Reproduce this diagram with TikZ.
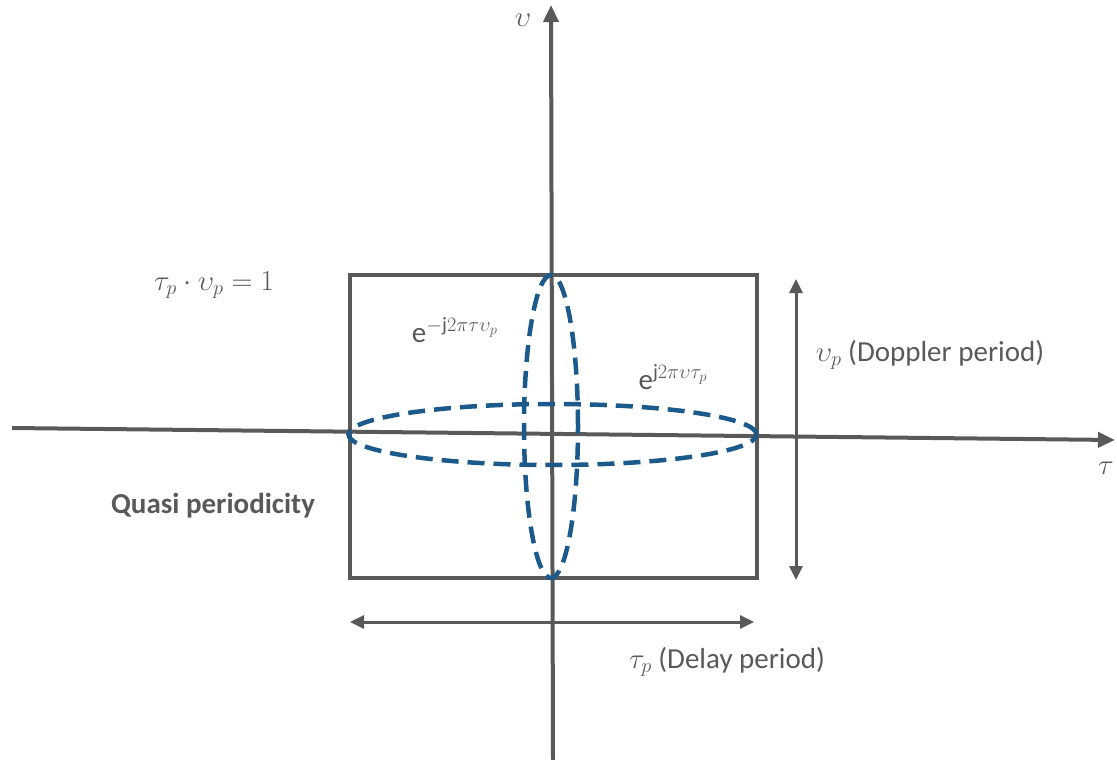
\RequirePackage{fix-cm}
\documentclass[tikz,border=0pt]{standalone}
\usepackage{fontspec}
\setmainfont{Carlito}
\usetikzlibrary{arrows.meta,shapes.geometric}
\definecolor{ax}{HTML}{595959}
\definecolor{bl}{HTML}{1B5A8A}
\begin{document}
\begin{tikzpicture}[x=1pt,y=-1pt,
  axis/.style={draw=ax,line width=4pt,-{Triangle[length=17pt,width=15pt]}},
  frame/.style={draw=ax,line width=4pt},
  dim/.style={draw=ax,line width=3pt,{Triangle[length=14pt,width=13pt]}-{Triangle[length=14pt,width=13pt]}},
  ell/.style={draw=bl,line width=4.5pt,dash pattern=on 17pt off 9pt},
  lab/.style={text=ax,font=\fontsize{29}{34}\selectfont,inner sep=0pt}]
\useasboundingbox (0,0) rectangle (1117,760);
\coordinate (ys) at (553,760);
\coordinate (ye) at (551,5);
\coordinate (xs) at (12,428);
\coordinate (xe) at (1115,440);
\draw[axis] (ys) -- (ye);
\draw[axis] (xs) -- (xe);
\node[frame,minimum width=407pt,minimum height=303pt,inner sep=0pt] (box) at (553.5,426.5) {};
\coordinate (va) at (796,279);
\coordinate (vb) at (796,580);
\draw[dim] (va) -- (vb);
\coordinate (ha) at (350,622);
\coordinate (hb) at (754,622);
\draw[dim] (ha) -- (hb);
\node[ell,ellipse,minimum width=54pt,minimum height=303pt,inner sep=0pt] (e1) at (551,426.5) {};
\node[ell,ellipse,minimum width=408pt,minimum height=61pt,inner sep=0pt] (e2) at (552.5,434.5) {};
\node[lab] (nu) at (523,20) {$\upsilon$};
\node[lab] (tau) at (1106,468) {$\tau$};
\node[lab] (rel) at (214,285) {$\tau_p\cdot\upsilon_p=1$};
\node[lab] (em) at (455,330) {e$^{-\mathrm{j}2\pi\tau\upsilon_p}$};
\node[lab] (ep) at (673,377) {e$^{\mathrm{j}2\pi\upsilon\tau_p}$};
\node[lab] (dp) at (930,355) {$\upsilon_p$ (Doppler period)};
\node[lab] (tp) at (727,662) {$\tau_p$ (Delay period)};
\node[lab,font=\fontsize{29}{34}\selectfont\bfseries] (qp) at (213,506) {Quasi periodicity};
\end{tikzpicture}
\end{document}
